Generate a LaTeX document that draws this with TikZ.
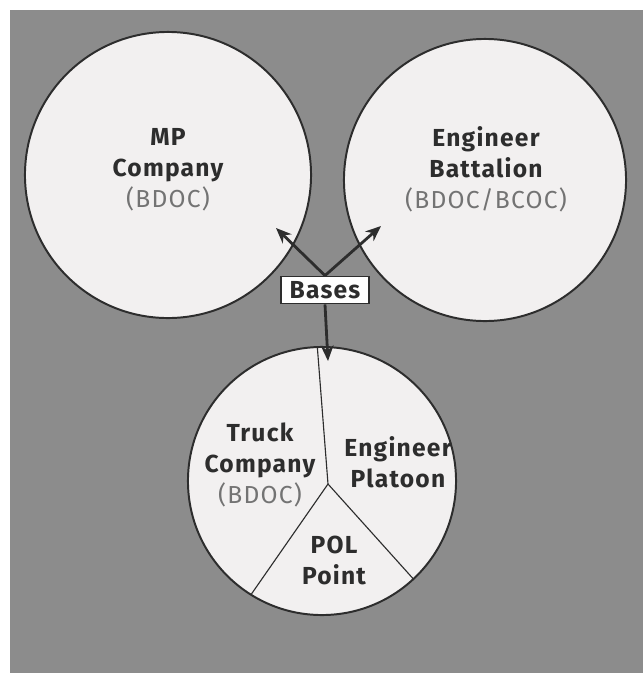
\documentclass[tikz,border=0pt]{standalone}
\usepackage{fontspec}
\setmainfont{Fira Sans}[LetterSpace=5]
\usetikzlibrary{arrows.meta,positioning}
\definecolor{panel}{RGB}{140,140,140}
\definecolor{disc}{RGB}{242,240,240}
\definecolor{ink}{RGB}{45,45,45}
\definecolor{soft}{RGB}{115,115,115}

\begin{document}
\begin{tikzpicture}[x=0.025cm,y=-0.025cm]
        \useasboundingbox (0,0) rectangle (643,673);
        \fill[panel] (10,10) rectangle (643,673);
        \begin{scope}[every node/.style={draw=ink,line width=1.4pt,circle,fill=disc,inner sep=0pt,outer sep=0pt}]
          \node[minimum size=7.15cm] (mp) at (168,175) {};
          \node[minimum size=7.05cm] (eng) at (485,180) {};
          \node[minimum size=6.7cm] (pie) at (322,481) {};
        \end{scope}
        \coordinate (hub) at (328,484);
        \begin{scope}[every edge/.style={draw=ink,line width=0.8pt}]
          \path (hub) edge (pie.92.6);
          \path (hub) edge (pie.238);
          \path (hub) edge (pie.313);
        \end{scope}
        \begin{scope}[every node/.style={align=center,text=ink,font=\bfseries\fontsize{17.5}{22}\selectfont}]
          \node (mplbl) at (168,170) {MP\\Company\\{\mdseries\color{soft}(BDOC)}};
          \node (englbl) at (486,169) {Engineer\\Battalion\\{\mdseries\color{soft}(BDOC/BCOC)}};
          \node (trucklbl) at (260,465) {Truck\\Company\\{\mdseries\color{soft}(BDOC)}};
          \node (platlbl) at (398,462) {Engineer\\Platoon};
          \node (pollbl) at (334,560) {POL\\Point};
          \node[draw=ink,fill=white,line width=1.2pt,minimum width=2.2cm,minimum height=0.68cm,inner sep=1pt] (bases) at (325,290) {Bases};
        \end{scope}
        \coordinate (mptip) at (276,228);
        \coordinate (engtip) at (381,226);
        \coordinate (pietip) at (328,361);
        \begin{scope}[every edge/.style={draw=ink,line width=2pt,-{Stealth[length=11pt,width=9pt,inset=3.5pt]}}]
          \path (bases.north) edge (mptip);
          \path (bases.north) edge (engtip);
          \path (bases.south) edge (pietip);
        \end{scope}
      \end{tikzpicture}
\end{document}
